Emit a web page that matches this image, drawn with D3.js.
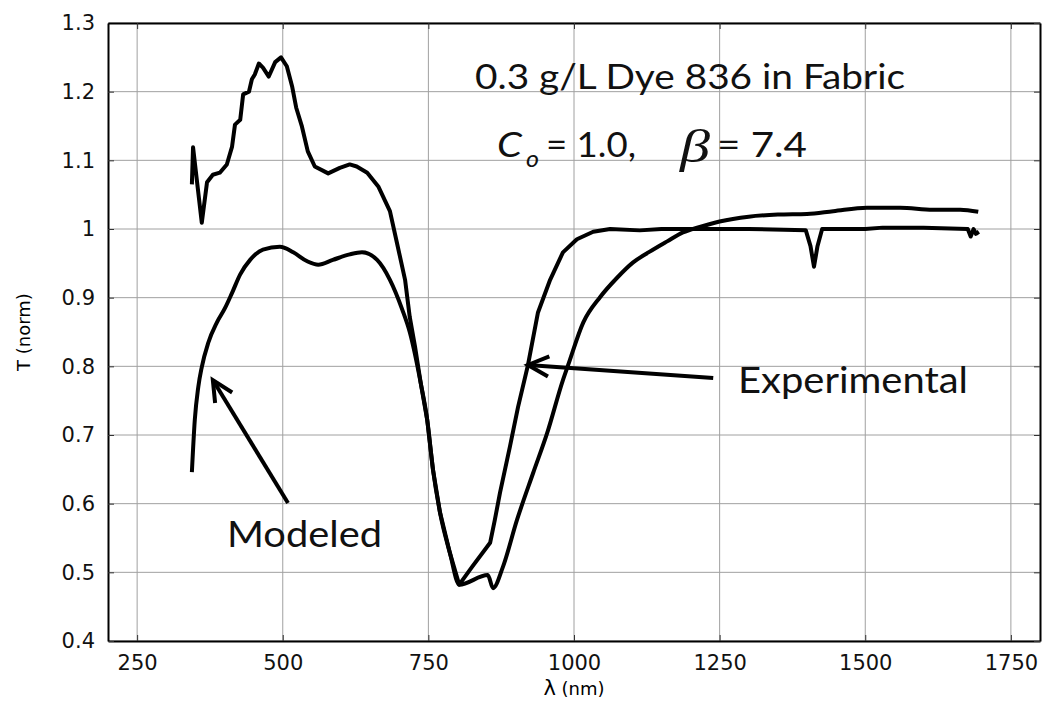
<!DOCTYPE html>
<html>
<head>
<meta charset="utf-8">
<script src="https://cdn.jsdelivr.net/npm/d3@7"></script>
<style>
  body { margin: 0; background: #fff; }
  svg { display: block; }
  .grid line { stroke: #a0a0a0; stroke-width: 1; }
  .tick text { font-family: "DejaVu Sans", sans-serif; font-size: 21px; fill: #111; }
  .note { font-family: Lato, sans-serif; fill: #111; }
</style>
</head>
<body>
<svg width="1045" height="704"></svg>
<script>
var expLambda = [344, 346, 361, 370, 380, 392, 404, 413, 418, 427, 432, 442, 447, 452, 459, 466, 476, 487, 497, 507,
  516, 523, 533, 543, 555, 578, 598, 615, 627, 645, 664, 684, 696, 710, 718, 727, 737, 748, 758, 770, 787, 803,
  825, 856, 864, 873, 890, 904, 921, 938, 959, 981, 1005, 1033, 1062, 1113, 1150, 1300, 1398, 1406, 1412, 1418,
  1426, 1500, 1530, 1600, 1676, 1681, 1686, 1690, 1695];
var expT = [1.065, 1.119, 1.009, 1.068, 1.079, 1.082, 1.094, 1.120, 1.152, 1.159, 1.196, 1.200, 1.218, 1.225, 1.241,
  1.235, 1.222, 1.243, 1.250, 1.237, 1.208, 1.177, 1.149, 1.113, 1.091, 1.081, 1.089, 1.094, 1.091, 1.082, 1.062,
  1.026, 0.980, 0.926, 0.872, 0.829, 0.775, 0.722, 0.649, 0.587, 0.528, 0.482, 0.508, 0.543, 0.576, 0.616, 0.683,
  0.741, 0.802, 0.878, 0.926, 0.966, 0.985, 0.996, 1.000, 0.998, 1.000, 1.000, 0.998, 0.975, 0.945, 0.975, 1.000,
  1.000, 1.002, 1.002, 1.000, 0.989, 1.000, 0.993, 0.996];

// model curve
var modLambda = [344, 349, 355, 361, 372, 387, 401, 413, 427, 444, 466, 495, 518, 542, 561, 586, 615, 636, 662, 684,
  705, 718, 737, 748, 758, 770, 787, 803, 852, 861, 878, 902, 930, 954, 981, 990, 1016, 1045, 1074, 1101, 1130,
  1160, 1187, 1216, 1250, 1300, 1350, 1400, 1445, 1503, 1560, 1616, 1663, 1694];
var modT = [0.646, 0.722, 0.770, 0.799, 0.834, 0.864, 0.885, 0.907, 0.934, 0.955, 0.970, 0.974, 0.966, 0.953, 0.948,
  0.955, 0.963, 0.966, 0.955, 0.926, 0.883, 0.850, 0.775, 0.722, 0.649, 0.587, 0.528, 0.482, 0.496, 0.477, 0.508,
  0.576, 0.645, 0.703, 0.780, 0.802, 0.864, 0.901, 0.929, 0.951, 0.967, 0.982, 0.995, 1.003, 1.011, 1.018, 1.021,
  1.022, 1.026, 1.031, 1.031, 1.028, 1.028, 1.025];

var xTicks = [250, 500, 750, 1000, 1250, 1500, 1750];
var yTicks = [0.4, 0.5, 0.6, 0.7, 0.8, 0.9, 1, 1.1, 1.2, 1.3];
var yTickLabels = ["0.4", "0.5", "0.6", "0.7", "0.8", "0.9", "1", "1.1", "1.2", "1.3"];

var svg = d3.select("svg");
// note: "top" is taken by window.top, so prefix these
var mLeft = 108, mRight = 1040, mTop = 23, mBottom = 641;

var x = d3.scaleLinear().domain([200, 1800]).range([mLeft, mRight]);
var y = d3.scaleLinear().domain([0.4, 1.3]).range([mBottom, mTop]);

// grid lines
var grid = svg.append("g").attr("class", "grid");
grid.selectAll(".gx").data(xTicks).enter().append("line")
  .attr("x1", function (d) { return x(d); })
  .attr("x2", function (d) { return x(d); })
  .attr("y1", mTop).attr("y2", mBottom);
grid.selectAll(".gy").data(yTicks).enter().append("line")
  .attr("x1", mLeft).attr("x2", mRight)
  .attr("y1", function (d) { return y(d); })
  .attr("y2", function (d) { return y(d); });

// axes, matlab style box with inward ticks
var xAxis = d3.axisBottom(x).tickValues(xTicks).tickSizeInner(-6).tickSizeOuter(0).tickPadding(14)
  .tickFormat(d3.format("d"));
var yAxis = d3.axisLeft(y).tickValues(yTicks).tickSizeInner(-6).tickSizeOuter(0).tickPadding(13)
  .tickFormat(function (d, i) { return yTickLabels[i]; });

svg.append("g").attr("transform", "translate(0," + mBottom + ")").call(xAxis);
svg.append("g").attr("transform", "translate(" + mLeft + ",0)").call(yAxis);
svg.append("g").attr("transform", "translate(0," + mTop + ")")
  .call(d3.axisTop(x).tickValues(xTicks).tickSizeInner(-6).tickSizeOuter(0).tickFormat(""));
svg.append("g").attr("transform", "translate(" + mRight + ",0)")
  .call(d3.axisRight(y).tickValues(yTicks).tickSizeInner(-6).tickSizeOuter(0).tickFormat(""));

svg.selectAll(".domain").attr("stroke", "#000").attr("stroke-width", 2);
svg.selectAll(".tick line").attr("stroke", "#333");

// the two spectra (model drawn smooth, measurement as is)
var expLine = d3.line()
  .x(function (d) { return x(d[0]); })
  .y(function (d) { return y(d[1]); });
var modLine = d3.line()
  .curve(d3.curveMonotoneX)
  .x(function (d) { return x(d[0]); })
  .y(function (d) { return y(d[1]); });

svg.append("path")
  .datum(d3.zip(expLambda, expT))
  .attr("d", expLine)
  .attr("fill", "none").attr("stroke", "#000").attr("stroke-width", 4)
  .attr("stroke-linejoin", "round");
svg.append("path")
  .datum(d3.zip(modLambda, modT))
  .attr("d", modLine)
  .attr("fill", "none").attr("stroke", "#000").attr("stroke-width", 4)
  .attr("stroke-linejoin", "round");

// axis labels
svg.append("text")
  .attr("transform", "translate(30," + (mTop + mBottom) / 2 + ") rotate(-90)")
  .attr("text-anchor", "middle")
  .style("font-family", "DejaVu Sans, sans-serif")
  .style("font-size", "18px")
  .text("T (norm)");

var xl = svg.append("text")
  .attr("x", x(1000)).attr("y", 695)
  .attr("text-anchor", "middle")
  .style("font-family", "DejaVu Sans, sans-serif")
  .style("font-size", "21px");
xl.append("tspan").text("λ");
xl.append("tspan").style("font-size", "18px").text(" (nm)");

// annotation text, widths matched to the figure (it is stretched sideways)
function note(txt, px, py, size, len) {
  var t = svg.append("text").attr("class", "note")
    .attr("x", px).attr("y", py)
    .style("font-size", size + "px")
    .text(txt);
  if (len) t.attr("textLength", len).attr("lengthAdjust", "spacingAndGlyphs");
  return t;
}

note("0.3 g/L Dye 836 in Fabric", 475, 89, 34, 430);
note("C", 497, 157, 35, 25).style("font-style", "italic");
note("o", 526, 167, 24, 13).style("font-style", "italic");
note("= 1.0,", 546, 157, 34, 90);
note("β", 680, 162, 46, 30).style("font-family", "Liberation Serif, serif").style("font-style", "italic");
note("= 7.4", 717, 157, 34, 90);
note("Experimental", 738, 393, 36, 230);
note("Modeled", 227, 547, 37, 155);

// arrows, in data units
var arrows = [
  { from: [509, 0.601], to: [380, 0.780] },
  { from: [1239, 0.783], to: [921, 0.802] }
];
arrows.forEach(function (a) {
  var x1 = x(a.from[0]), y1 = y(a.from[1]), x2 = x(a.to[0]), y2 = y(a.to[1]);
  var ang = Math.atan2(y1 - y2, x1 - x2);
  var len = 23, spread = 0.45;
  svg.append("line")
    .attr("x1", x1).attr("y1", y1).attr("x2", x2).attr("y2", y2)
    .attr("stroke", "#000").attr("stroke-width", 4);
  svg.append("path")
    .attr("d", "M" + (x2 + len * Math.cos(ang + spread)) + "," + (y2 + len * Math.sin(ang + spread)) +
      "L" + x2 + "," + y2 +
      "L" + (x2 + len * Math.cos(ang - spread)) + "," + (y2 + len * Math.sin(ang - spread)))
    .attr("fill", "none").attr("stroke", "#000").attr("stroke-width", 4)
    .attr("stroke-linejoin", "miter");
});
</script>
</body>
</html>
